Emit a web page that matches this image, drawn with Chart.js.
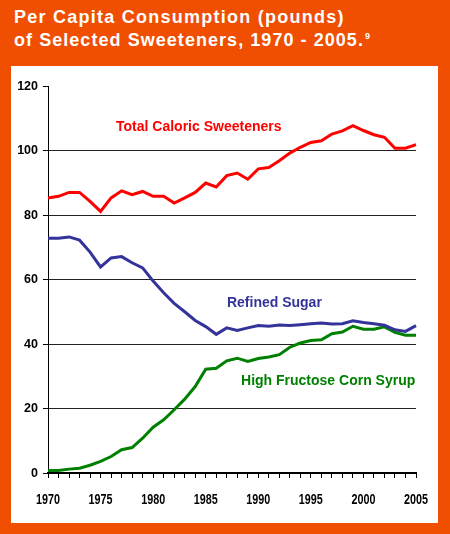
<!DOCTYPE html>
<html>
<head>
<meta charset="utf-8">
<script src="https://cdn.jsdelivr.net/npm/chart.js@4/dist/chart.umd.min.js"></script>
<style>
  html, body { margin: 0; padding: 0; }
  body { width: 450px; height: 534px; background: #F04E00; position: relative; overflow: hidden; }
  #panel { position: absolute; left: 11px; top: 66px; width: 427px; height: 457px; background: #fff; }
  #title { position: absolute; left: 14px; top: 6px; color: #fff; font-family: "Liberation Sans", Arial, sans-serif;
           font-weight: bold; font-size: 18px; line-height: 22.7px; letter-spacing: 1.25px; white-space: nowrap; }
  #title .l2 { letter-spacing: 1.05px; }
  #title sup { font-size: 9px; letter-spacing: 0; vertical-align: 7px; line-height: 0; margin-left: 1px; }
  #c { position: absolute; left: 0; top: 0; }
</style>
</head>
<body>
<div id="panel"></div>
<div id="title">Per Capita Consumption (pounds)<br><span class="l2">of Selected Sweeteners, 1970 - 2005.</span><sup>9</sup></div>
<canvas id="c" width="450" height="534"></canvas>
<script>
const years = [1970,1971,1972,1973,1974,1975,1976,1977,1978,1979,
               1980,1981,1982,1983,1984,1985,1986,1987,1988,1989,
               1990,1991,1992,1993,1994,1995,1996,1997,1998,1999,
               2000,2001,2002,2003,2004,2005];
const totalCaloric = [85.3,85.8,87.0,87.0,84.2,81.1,85.3,87.5,86.3,87.3,
                      85.8,85.8,83.7,85.3,87.0,89.9,88.7,92.2,93.0,91.1,
                      94.3,94.7,96.8,99.2,101.0,102.5,103.0,105.1,106.1,107.7,
                      106.2,104.9,104.1,100.7,100.7,101.8];
const refinedSugar = [72.8,72.8,73.2,72.2,68.5,63.9,66.7,67.1,65.2,63.6,
                      59.5,55.9,52.6,50.0,47.3,45.4,43.0,45.0,44.2,45.0,
                      45.7,45.5,45.9,45.7,46.0,46.3,46.5,46.2,46.3,47.2,
                      46.7,46.3,45.8,44.4,43.9,45.7];
const hfcs = [0.8,0.8,1.2,1.5,2.4,3.6,5.1,7.2,7.9,10.8,
              14.2,16.5,19.6,22.9,26.8,32.2,32.5,34.8,35.6,34.6,
              35.5,36.0,36.7,39.0,40.3,41.1,41.3,43.2,43.7,45.5,
              44.6,44.6,45.3,43.6,42.7,42.7];
const seriesNames = ["Total Caloric Sweeteners", "Refined Sugar", "High Fructose Corn Syrup"];
const yTicks = [0,20,40,60,80,100,120];
const xLabelYears = [1970,1975,1980,1985,1990,1995,2000,2005];

const colors = ["#FF0000", "#333399", "#008000"];

// Bold tick labels (x labels condensed), positioned from the chart's own scales
const tickLabelPlugin = {
  id: 'tickLabels',
  afterDraw(chart) {
    const ctx = chart.ctx, xs = chart.scales.x, ys = chart.scales.y;
    ctx.save();
    ctx.fillStyle = '#000';
    ctx.textBaseline = 'middle';
    ctx.textAlign = 'right';
    ctx.font = 'bold 12.5px "Liberation Sans", Arial, sans-serif';
    yTicks.forEach(v => {
      ctx.fillText(String(v), xs.left - 10, ys.getPixelForValue(v) + 0.5);
    });
    ctx.font = 'bold 14px "Liberation Sans", Arial, sans-serif';
    ctx.textAlign = 'center';
    xLabelYears.forEach(yr => {
      const px = xs.getPixelForValue(years.indexOf(yr));
      ctx.save();
      ctx.translate(px, ys.bottom + 27);
      ctx.scale(0.77, 1);
      ctx.fillText(String(yr), 0, 0);
      ctx.restore();
    });
    ctx.restore();
  }
};

const seriesLabelPlugin = {
  id: 'seriesLabels',
  afterDatasetsDraw(chart) {
    const ctx = chart.ctx, xs = chart.scales.x, ys = chart.scales.y;
    const anchors = [[6.47, 107.3], [17.02, 52.7], [18.36, 28.5]];
    ctx.save();
    ctx.font = 'bold 14px "Liberation Sans", Arial, sans-serif';
    ctx.textAlign = 'left';
    ctx.textBaseline = 'middle';
    seriesNames.forEach((name, i) => {
      ctx.fillStyle = colors[i];
      ctx.fillText(name, xs.getPixelForValue(anchors[i][0]), ys.getPixelForValue(anchors[i][1]));
    });
    ctx.restore();
  }
};

new Chart(document.getElementById('c'), {
  type: 'line',
  data: {
    labels: years.map(String),
    datasets: [
      { label: seriesNames[0], data: totalCaloric, borderColor: colors[0], borderWidth: 3, pointRadius: 0, tension: 0, fill: false },
      { label: seriesNames[1], data: refinedSugar, borderColor: colors[1], borderWidth: 3, pointRadius: 0, tension: 0, fill: false },
      { label: seriesNames[2], data: hfcs, borderColor: colors[2], borderWidth: 3, pointRadius: 0, tension: 0, fill: false }
    ]
  },
  plugins: [seriesLabelPlugin, tickLabelPlugin],
  options: {
    responsive: false,
    animation: false,
    layout: { padding: { left: 0, right: 34, top: 86, bottom: 21 } },
    plugins: { legend: { display: false }, tooltip: { enabled: false } },
    scales: {
      x: {
        type: 'category',
        offset: false,
        grid: { drawOnChartArea: false, drawTicks: true, tickLength: 5, color: '#000', tickColor: '#000', lineWidth: 1 },
        border: { color: '#000', width: 2 },
        ticks: { display: false, autoSkip: false, maxRotation: 0, minRotation: 0 },
        afterFit: s => { s.height = 40; }
      },
      y: {
        min: 0, max: 120,
        afterBuildTicks: s => { s.ticks = yTicks.map(v => ({ value: v })); },
        ticks: { display: false },
        grid: {
          color: c => (c.tick && (c.tick.value === 0 || c.tick.value === 120)) ? 'rgba(0,0,0,0)' : '#222',
          tickColor: '#000', tickLength: 5, lineWidth: 1
        },
        border: { color: '#000', width: 1 },
        afterFit: s => { s.width = 48; }
      }
    }
  }
});
</script>
</body>
</html>
